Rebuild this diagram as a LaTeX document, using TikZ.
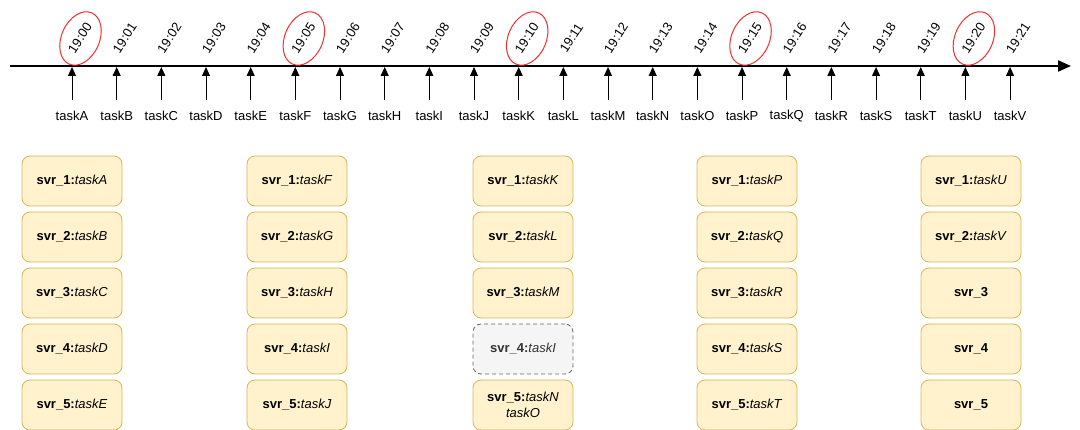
\documentclass[tikz,border=0pt]{standalone}
\usepackage{fontspec}
\setmainfont{Liberation Sans}
\usetikzlibrary{arrows.meta,shapes.geometric}
\definecolor{boxfill}{HTML}{FFF2CC}
\definecolor{boxline}{HTML}{D6B656}
\definecolor{idlefill}{HTML}{F5F5F5}
\definecolor{idleline}{HTML}{666666}
\definecolor{idletext}{HTML}{333333}
\definecolor{ringred}{HTML}{F03030}
\begin{document}
\begin{tikzpicture}[x=1pt,y=-1pt,
  lblfont/.style={font=\fontsize{13}{16}\selectfont},
  svrbox/.style={lblfont, draw=boxline, fill=boxfill, rounded corners=8pt,
    minimum width=100pt, minimum height=50pt, line width=0.8pt, align=center, inner sep=2pt},
  idlebox/.style={svrbox, draw=idleline, fill=idlefill, text=idletext, dash pattern=on 4pt off 3pt},
  tasklbl/.style={lblfont, inner sep=1pt},
  timelbl/.style={lblfont, rotate=57, inner sep=1pt},
  ring/.style={ellipse, draw=ringred, line width=1pt, minimum width=38pt, minimum height=56pt, inner sep=0pt, rotate=-24},
  tickarrow/.style={line width=1pt, -{Triangle[length=9pt,width=8pt]}},
  mainarrow/.style={line width=2pt, -{Triangle[length=13pt,width=11pt]}}
]
\useasboundingbox (0,0) rectangle (1080,430);

% timeline
\coordinate (tlstart) at (10,66);
\coordinate (tlend) at (1071,66);
\draw[mainarrow] (tlstart) -- (tlend);

\foreach \t/\m [count=\i from 0] in {A/00,B/01,C/02,D/03,E/04,F/05,G/06,H/07,I/08,J/09,K/10,L/11,M/12,N/13,O/14,P/15,Q/16,R/17,S/18,T/19,U/20,V/21} {
  \pgfmathsetmacro\xx{72+44.67*\i}
  \coordinate (tb\t) at (\xx,100);
  \coordinate (tt\t) at (\xx,67);
  \node[tasklbl] (task\t) at (\xx,116) {task\t};
  \node[timelbl] (time\t) at (\xx+8,38) {19:\m};
  \draw[tickarrow] (tb\t) -- (tt\t);
}

% red rings
\foreach \t in {A,F,K,P,U} {
  \node[ring] (ring\t) at ([xshift=0.5pt,yshift=-0.5pt]time\t.center) {};
}

% server boxes
% column 1
\node[svrbox] (b11) at (72,181) {\textbf{svr\_1:}\textit{taskA}};
\node[svrbox] (b12) at (72,237) {\textbf{svr\_2:}\textit{taskB}};
\node[svrbox] (b13) at (72,293) {\textbf{svr\_3:}\textit{taskC}};
\node[svrbox] (b14) at (72,349) {\textbf{svr\_4:}\textit{taskD}};
\node[svrbox] (b15) at (72,405) {\textbf{svr\_5:}\textit{taskE}};
% column 2
\node[svrbox] (b21) at (297,181) {\textbf{svr\_1:}\textit{taskF}};
\node[svrbox] (b22) at (297,237) {\textbf{svr\_2:}\textit{taskG}};
\node[svrbox] (b23) at (297,293) {\textbf{svr\_3:}\textit{taskH}};
\node[svrbox] (b24) at (297,349) {\textbf{svr\_4:}\textit{taskI}};
\node[svrbox] (b25) at (297,405) {\textbf{svr\_5:}\textit{taskJ}};
% column 3
\node[svrbox] (b31) at (523,181) {\textbf{svr\_1:}\textit{taskK}};
\node[svrbox] (b32) at (523,237) {\textbf{svr\_2:}\textit{taskL}};
\node[svrbox] (b33) at (523,293) {\textbf{svr\_3:}\textit{taskM}};
\node[idlebox] (b34) at (523,349) {\textbf{svr\_4:}\textit{taskI}};
\node[svrbox] (b35) at (523,405) {\textbf{svr\_5:}\textit{taskN}\\\textit{taskO}};
% column 4
\node[svrbox] (b41) at (747,181) {\textbf{svr\_1:}\textit{taskP}};
\node[svrbox] (b42) at (747,237) {\textbf{svr\_2:}\textit{taskQ}};
\node[svrbox] (b43) at (747,293) {\textbf{svr\_3:}\textit{taskR}};
\node[svrbox] (b44) at (747,349) {\textbf{svr\_4:}\textit{taskS}};
\node[svrbox] (b45) at (747,405) {\textbf{svr\_5:}\textit{taskT}};
% column 5
\node[svrbox] (b51) at (971,181) {\textbf{svr\_1:}\textit{taskU}};
\node[svrbox] (b52) at (971,237) {\textbf{svr\_2:}\textit{taskV}};
\node[svrbox] (b53) at (971,293) {\textbf{svr\_3}};
\node[svrbox] (b54) at (971,349) {\textbf{svr\_4}};
\node[svrbox] (b55) at (971,405) {\textbf{svr\_5}};
\end{tikzpicture}
\end{document}
